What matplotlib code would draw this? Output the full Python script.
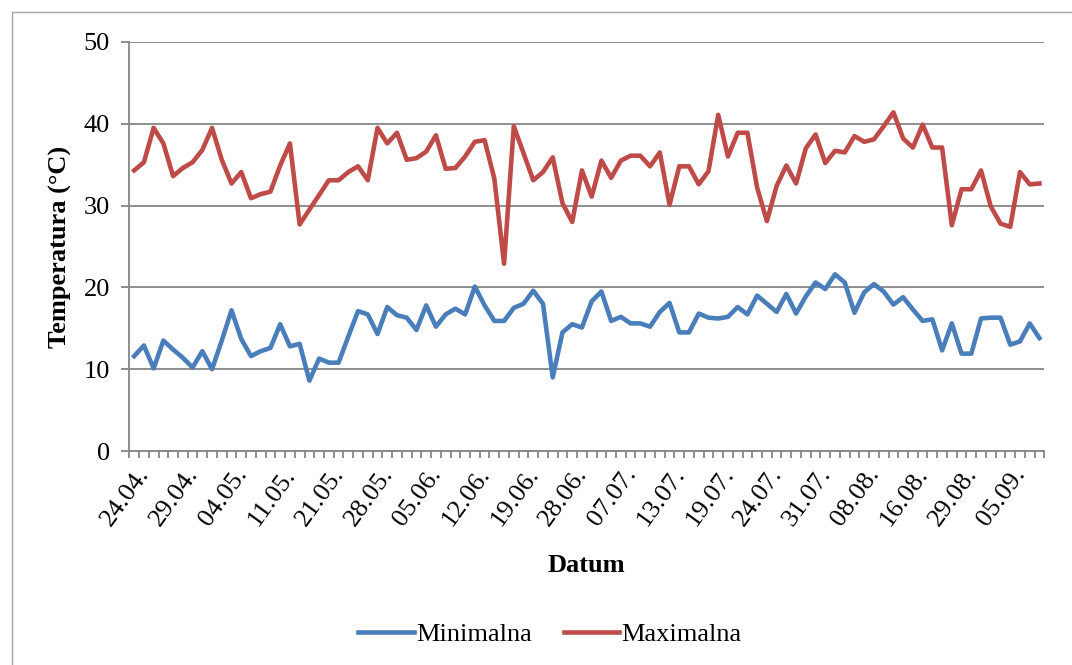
import matplotlib
matplotlib.use('Agg')
import matplotlib.pyplot as plt
import matplotlib.transforms as mtransforms
from matplotlib.patches import Rectangle
import numpy as np

plt.rcParams['font.family'] = ['Liberation Serif', 'DejaVu Serif']

# dnevne temperature (°C), 94 dana
minimalna = [11.6, 12.9, 10.1, 13.5, 12.4, 11.4, 10.2, 12.2, 10.0, 13.5,
             17.2, 13.7, 11.6, 12.2, 12.6, 15.5, 12.8, 13.1, 8.6, 11.3,
             10.8, 10.8, 14.0, 17.1, 16.7, 14.3, 17.6, 16.6, 16.3, 14.8,
             17.8, 15.2, 16.7, 17.4, 16.7, 20.1, 17.8, 15.9, 15.9, 17.5,
             18.0, 19.6, 18.0, 9.0, 14.5, 15.5, 15.1, 18.3, 19.5, 15.9,
             16.4, 15.6, 15.6, 15.2, 17.0, 18.1, 14.5, 14.5, 16.8, 16.3,
             16.2, 16.4, 17.6, 16.7, 19.0, 18.0, 17.0, 19.2, 16.8, 18.9,
             20.6, 19.8, 21.6, 20.6, 16.9, 19.4, 20.4, 19.5, 17.9, 18.8,
             17.3, 15.9, 16.1, 12.3, 15.6, 11.9, 11.9, 16.2, 16.3, 16.3,
             13.0, 13.4, 15.6, 13.8]
maksimalna = [34.3, 35.3, 39.5, 37.6, 33.6, 34.6, 35.3, 36.8, 39.5, 35.6,
              32.7, 34.1, 30.9, 31.4, 31.7, 34.9, 37.6, 27.7, 29.5, 31.3,
              33.1, 33.1, 34.1, 34.8, 33.1, 39.5, 37.6, 38.9, 35.6, 35.8,
              36.6, 38.6, 34.5, 34.6, 36.0, 37.8, 38.0, 33.3, 22.9, 39.7,
              36.4, 33.1, 34.1, 35.9, 30.3, 28.0, 34.3, 31.1, 35.5, 33.4,
              35.5, 36.1, 36.1, 34.8, 36.5, 30.1, 34.8, 34.8, 32.6, 34.2,
              41.1, 36.0, 38.9, 38.9, 32.2, 28.1, 32.4, 34.9, 32.7, 37.0,
              38.7, 35.2, 36.7, 36.5, 38.5, 37.8, 38.1, 39.7, 41.4, 38.2,
              37.1, 39.9, 37.1, 37.1, 27.6, 32.0, 32.0, 34.3, 29.9, 27.8,
              27.4, 34.1, 32.6, 32.7]
datumi = ['24.04.', '29.04.', '04.05.', '11.05.', '21.05.', '28.05.', '05.06.',
          '12.06.', '19.06.', '28.06.', '07.07.', '13.07.', '19.07.', '24.07.',
          '31.07.', '08.08.', '16.08.', '29.08.', '05.09.']
korak = 5  # oznaka svakog 5. dana

x = np.arange(len(minimalna))
W, H = 1072, 665
fig = plt.figure(figsize=(W / 100, H / 100), dpi=100)
ax = fig.add_axes([129.3 / W, 1 - 451 / H, 915 / W, 409 / H])

# okvir grafikona
fig.patches.append(Rectangle((12 / W, -0.1), 1.2, 1 - 12 / H + 0.1, transform=fig.transFigure,
                             fill=False, edgecolor='#A6A6A6', lw=1.0))

ax.plot(x, minimalna, color='#4A7EBB', lw=3.3, label='Minimalna', solid_joinstyle='round')
ax.plot(x, maksimalna, color='#BE4B48', lw=3.3, label='Maximalna', solid_joinstyle='round')

ax.set_xlim(-0.5, len(x) - 0.5)
ax.set_ylim(0, 50)
ax.set_yticks(range(0, 51, 10))
ax.grid(axis='y', color='#868686', lw=1.3)
ax.set_axisbelow(True)
for s in ['top', 'right']:
    ax.spines[s].set_visible(False)
for s in ['left', 'bottom']:
    ax.spines[s].set_color('#868686')
    ax.spines[s].set_linewidth(1.3)

ax.set_xticks(x[::korak][:len(datumi)])
ax.set_xticks(np.arange(-0.5, len(x)), minor=True)
ax.tick_params(axis='x', which='major', length=0, pad=14, labelsize=19)
ax.tick_params(axis='x', which='minor', length=5, width=1.3, color='#868686', direction='out')
ax.tick_params(axis='y', length=6, width=1.3, color='#868686', pad=8, labelsize=19)
ax.set_xticklabels(datumi)
off = mtransforms.ScaledTranslation(0.11, 0, fig.dpi_scale_trans)
for lab in ax.get_xticklabels():
    lab.set_rotation(54)
    lab.set_rotation_mode('anchor')
    lab.set_ha('right')
    lab.set_va('center')
    lab.set_transform(lab.get_transform() + off)

ax.set_xlabel('Datum', fontsize=19, fontweight='bold')
ax.xaxis.set_label_coords(0.5, -0.279)
ax.xaxis.label.set_va('center')
ax.set_ylabel('Temperatura (°C)', fontsize=19, fontweight='bold')
ax.yaxis.set_label_coords(-0.0757, 0.5)
ax.yaxis.label.set_va('center')

fig.legend(loc='center', bbox_to_anchor=(550 / W, 1 - 634 / H), ncol=2, frameon=False,
           fontsize=19, handlelength=2.1, handletextpad=0.1, columnspacing=1.2)

fig.savefig('out.png', dpi=100)
